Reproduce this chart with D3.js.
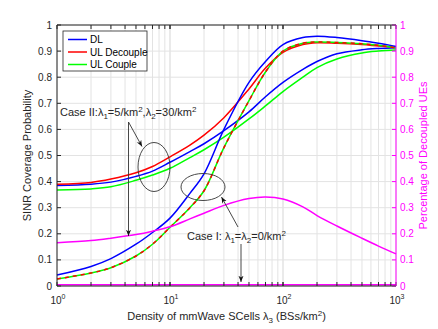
<!DOCTYPE html>
<html>
<head>
<meta charset="utf-8">
<script src="https://cdn.jsdelivr.net/npm/d3@7"></script>
<style>
  body { margin: 0; background: #fff; }
  svg { font-family: "Liberation Sans", Arial, sans-serif; }
</style>
</head>
<body>
<svg id="chart" width="438" height="329"></svg>
<script>
// density of mmWave SCells (BSs/km^2)
const xVals = [1, 2, 3, 5, 7, 10, 15, 20, 30, 50, 70, 100, 150, 200, 300, 500, 700, 1000]

// Case II: lambda1 = 5, lambda2 = 30
const dlCase2 = [0.385, 0.39, 0.398, 0.42, 0.44, 0.474, 0.515, 0.545, 0.595, 0.667, 0.725, 0.78, 0.83, 0.86, 0.89, 0.905, 0.91, 0.913]
const ulDecCase2 = [0.39, 0.397, 0.41, 0.434, 0.458, 0.495, 0.54, 0.578, 0.645, 0.755, 0.835, 0.895, 0.925, 0.932, 0.93, 0.925, 0.92, 0.915]
const ulCoupCase2 = [0.368, 0.372, 0.38, 0.405, 0.425, 0.451, 0.492, 0.522, 0.57, 0.64, 0.69, 0.745, 0.8, 0.837, 0.87, 0.893, 0.9, 0.904]
const pctCase2 = [0.166, 0.174, 0.183, 0.197, 0.21, 0.227, 0.257, 0.279, 0.309, 0.335, 0.341, 0.333, 0.303, 0.27, 0.23, 0.183, 0.153, 0.123]

// Case I: lambda1 = lambda2 = 0
const dlCase1 = [0.042, 0.075, 0.105, 0.16, 0.205, 0.26, 0.355, 0.43, 0.6, 0.78, 0.86, 0.925, 0.952, 0.957, 0.952, 0.94, 0.93, 0.918]
const ulCase1 = [0.027, 0.05, 0.07, 0.115, 0.16, 0.225, 0.3, 0.365, 0.53, 0.71, 0.82, 0.9, 0.93, 0.935, 0.933, 0.928, 0.922, 0.912]
const pctCase1 = [0.005, 0.005, 0.005, 0.005, 0.005, 0.005, 0.005, 0.005, 0.005, 0.005, 0.005, 0.005, 0.005, 0.005, 0.005, 0.005, 0.005, 0.005]

const yTicks = [0, 0.1, 0.2, 0.3, 0.4, 0.5, 0.6, 0.7, 0.8, 0.9, 1]
const xMajor = [1, 10, 100, 1000]

const BLUE = '#0000ff', RED = '#ff0000', GREEN = '#00ff00', MAG = '#ff00ff', INK = '#262626'

const W = 438, H = 329
const m = { top: 25, right: 42, bottom: 43, left: 57 }
const iw = W - m.left - m.right
const ih = H - m.top - m.bottom

const svg = d3.select('#chart')
const g = svg.append('g').attr('transform', `translate(${m.left},${m.top})`)

const x = d3.scaleLog().domain([1, 1000]).range([0, iw])
const y = d3.scaleLinear().domain([0, 1]).range([ih, 0])
const y2 = d3.scaleLinear().domain([0, 1]).range([ih, 0])

// minor log positions
const xMinor = []
for (let d = 1; d < 1000; d *= 10) {
  for (let k = 1; k <= 10; k++) xMinor.push(d * k)
}

// grid
g.append('g')
  .selectAll('line')
  .data(xMinor)
  .join('line')
  .attr('x1', d => x(d)).attr('x2', d => x(d))
  .attr('y1', 0).attr('y2', ih)
  .attr('stroke', '#e3e3e3').attr('stroke-width', 1)
g.append('g')
  .selectAll('line')
  .data(yTicks)
  .join('line')
  .attr('x1', 0).attr('x2', iw)
  .attr('y1', d => y(d)).attr('y2', d => y(d))
  .attr('stroke', '#e3e3e3').attr('stroke-width', 1)

// curves
const line = (ys, sc) => d3.line()
  .x((d, i) => x(xVals[i]))
  .y(d => sc(d))
  .curve(d3.curveCatmullRom.alpha(0.5))(ys)

const curves = [
  { ys: dlCase2, c: BLUE, sc: y },
  { ys: ulDecCase2, c: RED, sc: y },
  { ys: ulCoupCase2, c: GREEN, sc: y },
  { ys: dlCase1, c: BLUE, sc: y },
  { ys: ulCase1, c: GREEN, sc: y },
  { ys: ulCase1, c: RED, sc: y, dash: '4,4' },
  { ys: pctCase2, c: MAG, sc: y2 },
  { ys: pctCase1, c: MAG, sc: y2 }
]
g.append('g')
  .selectAll('path')
  .data(curves)
  .join('path')
  .attr('d', d => line(d.ys, d.sc))
  .attr('fill', 'none')
  .attr('stroke', d => d.c)
  .attr('stroke-width', 1.5)
  .attr('stroke-dasharray', d => d.dash || null)

// axes
const tickLen = 4
const axisG = g.append('g').attr('font-size', 10)

// left ticks + labels
axisG.append('g')
  .selectAll('line')
  .data(yTicks)
  .join('line')
  .attr('x1', 0).attr('x2', tickLen)
  .attr('y1', d => y(d)).attr('y2', d => y(d))
  .attr('stroke', INK)
axisG.append('g')
  .selectAll('text')
  .data(yTicks)
  .join('text')
  .attr('x', -5).attr('y', d => y(d))
  .attr('dy', '0.35em')
  .attr('text-anchor', 'end')
  .attr('fill', INK)
  .text(d => d3.format('~g')(d))

// right ticks + labels (magenta)
axisG.append('g')
  .selectAll('line')
  .data(yTicks)
  .join('line')
  .attr('x1', iw).attr('x2', iw - tickLen)
  .attr('y1', d => y2(d)).attr('y2', d => y2(d))
  .attr('stroke', MAG)
axisG.append('g')
  .selectAll('text')
  .data(yTicks)
  .join('text')
  .attr('x', iw + 4).attr('y', d => y2(d))
  .attr('dy', '0.35em')
  .attr('fill', MAG)
  .text(d => d3.format('~g')(d))

// top + bottom ticks
for (const yy of [0, ih]) {
  const dir = yy === 0 ? 1 : -1
  axisG.append('g')
    .selectAll('line')
    .data(xMinor)
    .join('line')
    .attr('x1', d => x(d)).attr('x2', d => x(d))
    .attr('y1', yy).attr('y2', yy + dir * tickLen)
    .attr('stroke', INK)
}

// x tick labels 10^n
const xl = axisG.append('g')
  .selectAll('text')
  .data(xMajor)
  .join('text')
  .attr('x', d => x(d) + 1).attr('y', ih + 18)
  .attr('text-anchor', 'middle')
  .attr('fill', INK)
xl.append('tspan').text('10')
xl.append('tspan').attr('dy', -5).attr('font-size', 7).text(d => Math.round(Math.log10(d)))

// box
g.append('line').attr('x1', 0).attr('x2', iw).attr('y1', 0).attr('y2', 0).attr('stroke', INK)
g.append('line').attr('x1', 0).attr('x2', iw).attr('y1', ih).attr('y2', ih).attr('stroke', INK)
g.append('line').attr('x1', 0).attr('x2', 0).attr('y1', 0).attr('y2', ih).attr('stroke', INK)
g.append('line').attr('x1', iw).attr('x2', iw).attr('y1', 0).attr('y2', ih).attr('stroke', MAG)

// axis titles
svg.append('text')
  .attr('transform', `translate(31,${m.top + ih / 2}) rotate(-90)`)
  .attr('text-anchor', 'middle')
  .attr('font-size', 11)
  .attr('fill', INK)
  .text('SINR Coverage Probability')
svg.append('text')
  .attr('transform', `translate(427,${m.top + ih / 2}) rotate(-90)`)
  .attr('text-anchor', 'middle')
  .attr('font-size', 11)
  .attr('fill', MAG)
  .text('Percentage of Decoupled UEs')

const xt = svg.append('text')
  .attr('x', m.left + iw / 2).attr('y', 320)
  .attr('text-anchor', 'middle')
  .attr('font-size', 11)
  .attr('fill', INK)
xt.append('tspan').text('Density of mmWave SCells \u03bb')
xt.append('tspan').attr('dy', 3).attr('font-size', 8).text('3')
xt.append('tspan').attr('dy', -3).text(' (BSs/km')
xt.append('tspan').attr('dy', -4).attr('font-size', 8).text('2')
xt.append('tspan').attr('dy', 4).text(')')

// legend
const legendItems = [
  { name: 'DL', c: BLUE },
  { name: 'UL Decouple', c: RED },
  { name: 'UL Couple', c: GREEN }
]
const lg = svg.append('g').attr('transform', 'translate(63,31)')
lg.append('rect').attr('width', 84).attr('height', 40)
  .attr('fill', '#fff').attr('stroke', INK).attr('stroke-width', 0.8)
const li = lg.selectAll('g.item')
  .data(legendItems)
  .join('g')
  .classed('item', true)
  .attr('transform', (d, i) => `translate(0,${8.5 + i * 12.5})`)
li.append('line').attr('x1', 5).attr('x2', 24).attr('stroke', d => d.c).attr('stroke-width', 1.5)
li.append('text').attr('x', 27).attr('dy', '0.35em').attr('font-size', 10).attr('fill', '#000').text(d => d.name)

// annotations
const ann = svg.append('g').attr('fill', 'none').attr('stroke', '#333').attr('stroke-width', 0.9)
svg.append('defs').append('marker')
  .attr('id', 'arr').attr('viewBox', '0 0 10 10').attr('refX', 10).attr('refY', 5)
  .attr('markerWidth', 7).attr('markerHeight', 7).attr('orient', 'auto-start-reverse')
  .append('path').attr('d', 'M0,1 L10,5 L0,9 L3,5 Z').attr('fill', '#111')

ann.append('ellipse').attr('cx', 154).attr('cy', 167).attr('rx', 16).attr('ry', 24.5)
ann.append('ellipse').attr('cx', 203).attr('cy', 187).attr('rx', 22).attr('ry', 13.5)
ann.append('line').attr('x1', 128.5).attr('y1', 122).attr('x2', 142).attr('y2', 146.5).attr('marker-end', 'url(#arr)')
ann.append('line').attr('x1', 128.5).attr('y1', 122).attr('x2', 128.5).attr('y2', 236).attr('marker-end', 'url(#arr)')
ann.append('line').attr('x1', 238).attr('y1', 227).attr('x2', 221.5).attr('y2', 197).attr('marker-end', 'url(#arr)')
ann.append('line').attr('x1', 241).attr('y1', 244).attr('x2', 241).attr('y2', 282).attr('marker-end', 'url(#arr)')

const t2 = svg.append('text').attr('x', 60).attr('y', 116).attr('font-size', 11).attr('fill', INK)
t2.append('tspan').text('Case II:\u03bb')
t2.append('tspan').attr('dy', 3).attr('font-size', 8).text('1')
t2.append('tspan').attr('dy', -3).text('=5/km')
t2.append('tspan').attr('dy', -4).attr('font-size', 8).text('2')
t2.append('tspan').attr('dy', 4).text(',\u03bb')
t2.append('tspan').attr('dy', 3).attr('font-size', 8).text('2')
t2.append('tspan').attr('dy', -3).text('=30/km')
t2.append('tspan').attr('dy', -4).attr('font-size', 8).text('2')

const t1 = svg.append('text').attr('x', 187).attr('y', 240).attr('font-size', 11).attr('fill', INK)
t1.append('tspan').text('Case I: \u03bb')
t1.append('tspan').attr('dy', 3).attr('font-size', 8).text('1')
t1.append('tspan').attr('dy', -3).text('=\u03bb')
t1.append('tspan').attr('dy', 3).attr('font-size', 8).text('2')
t1.append('tspan').attr('dy', -3).text('=0/km')
t1.append('tspan').attr('dy', -4).attr('font-size', 8).text('2')
</script>
</body>
</html>
